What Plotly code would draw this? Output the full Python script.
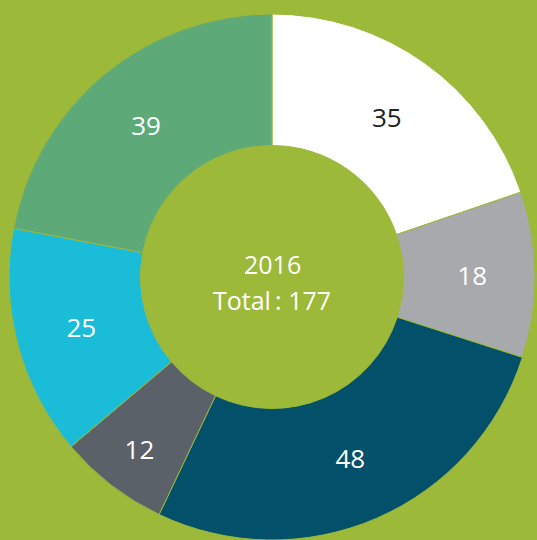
import plotly.graph_objects as go

labels = ["A", "B", "C", "D", "E", "F"]
values = [35, 18, 48, 12, 25, 39]
colors = ["#FFFFFF", "#A8A9AD", "#03506A", "#5B6169", "#1ABCD8", "#5DAA78"]
text_colors = ["#222222", "#FFFFFF", "#FFFFFF", "#FFFFFF", "#FFFFFF", "#FFFFFF"]
year = "2016"
total_label = "Total\u2009: 177"
bg = "#9CB93A"
FONT = "Open Sans"

fig = go.Figure(go.Pie(
    labels=labels, values=values, sort=False, direction="clockwise", rotation=0,
    hole=0.5, textinfo="value", textposition="inside", insidetextorientation="horizontal",
    marker=dict(colors=colors, line=dict(color=bg, width=1)),
    textfont=dict(color=text_colors, size=26, family=FONT),
    domain=dict(x=[9/537, 535/537], y=[0, 526/540]),
    showlegend=False, hoverinfo="skip",
))
fig.add_annotation(text=year, x=272/537, y=(540-264)/540, xref="paper", yref="paper",
                   showarrow=False, font=dict(color="white", size=25, family=FONT))
fig.add_annotation(text=total_label, x=272/537, y=(540-300)/540, xref="paper", yref="paper",
                   showarrow=False, font=dict(color="white", size=25, family=FONT))
fig.update_layout(width=537, height=540, margin=dict(l=0, r=0, t=0, b=0),
                  paper_bgcolor=bg, plot_bgcolor=bg)
fig.write_html("out.html", config={"displayModeBar": False},
               post_script="document.body.style.margin='0';document.body.style.overflow='hidden';document.body.style.background='" + bg + "';")
